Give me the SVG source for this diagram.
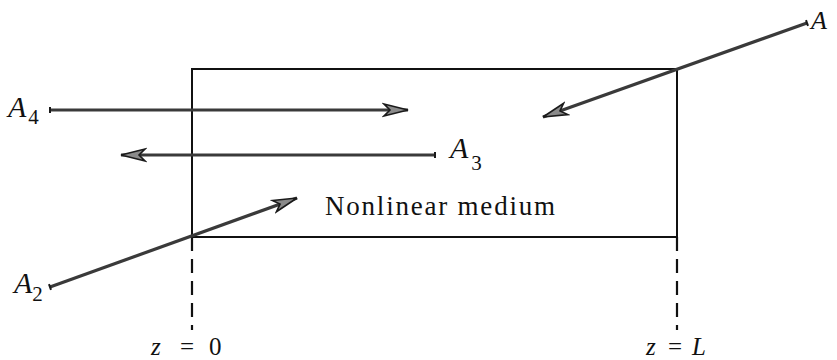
<svg xmlns="http://www.w3.org/2000/svg" width="837" height="360" viewBox="0 0 837 360">
<style>
.box{fill:none;stroke:#111;stroke-width:2}
.dash{fill:none;stroke:#111;stroke-width:2.2;stroke-dasharray:14 8}
.beam{fill:none;stroke:#3a3a3a;stroke-width:3.2}
.lbl{font-family:"Liberation Serif","Times New Roman",serif;fill:#111}
.it{font-style:italic}
</style>
<defs>
<marker id="head" markerUnits="userSpaceOnUse" markerWidth="30" markerHeight="16" viewBox="-26 -8 30 16" refX="0" refY="0" orient="auto">
<path d="M0,0 L-24,-6 L-18,0 L-24,6 Z" fill="#8a8a8a" stroke="#1a1a1a" stroke-width="1.6" stroke-linejoin="miter"/>
</marker>
<marker id="tail" markerUnits="userSpaceOnUse" markerWidth="6" markerHeight="10" viewBox="-3 -5 6 10" refX="0" refY="0" orient="auto">
<line x1="0" y1="-3" x2="0" y2="3" stroke="#1a1a1a" stroke-width="2"/>
</marker>
</defs>
<g id="medium">
<rect class="box" x="192" y="69" width="485" height="168"/>
<text class="lbl" x="325" y="215" font-size="27" textLength="230">Nonlinear medium</text>
</g>
<g id="boundaries">
<line class="dash" x1="192" y1="237" x2="192" y2="330"/>
<line class="dash" x1="677" y1="237" x2="677" y2="330"/>
<text class="lbl" y="355" font-size="25"><tspan class="it" x="151">z</tspan><tspan x="180">=</tspan><tspan x="209">0</tspan></text>
<text class="lbl" y="355" font-size="25"><tspan class="it" x="646">z</tspan><tspan x="668">=</tspan><tspan class="it" x="692">L</tspan></text>
</g>
<g id="connectors">
<line class="beam" x1="807" y1="23" x2="543" y2="117" marker-start="url(#tail)" marker-end="url(#head)"/>
<line class="beam" x1="50" y1="287" x2="297" y2="198" marker-start="url(#tail)" marker-end="url(#head)"/>
<line class="beam" x1="50" y1="110" x2="408" y2="110" marker-start="url(#tail)" marker-end="url(#head)"/>
<line class="beam" x1="435" y1="155" x2="121" y2="155" marker-start="url(#tail)" marker-end="url(#head)"/>
</g>
<g id="A1">
<text class="lbl it" x="811" y="29" font-size="26">A</text>
</g>
<g id="A2">
<text class="lbl" x="14" y="293" font-size="30"><tspan class="it">A</tspan><tspan font-size="21" dy="8">2</tspan></text>
</g>
<g id="A3">
<text class="lbl" x="450" y="158" font-size="30"><tspan class="it">A</tspan><tspan font-size="21" dy="12" dx="3">3</tspan></text>
</g>
<g id="A4">
<text class="lbl" x="8" y="117" font-size="30"><tspan class="it">A</tspan><tspan font-size="21" dy="7" dx="2">4</tspan></text>
</g>
</svg>
